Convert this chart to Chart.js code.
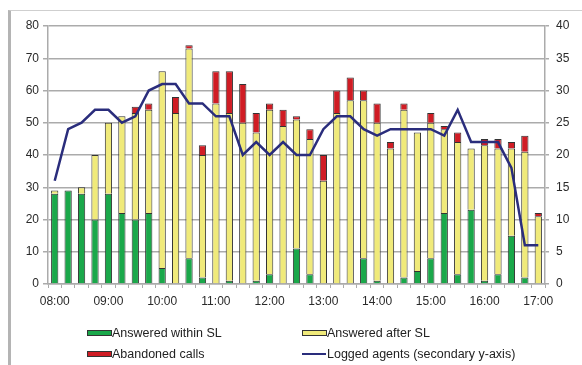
<!DOCTYPE html>
<html>
<head>
<meta charset="utf-8">
<script src="https://cdn.jsdelivr.net/npm/chart.js@4.4.1/dist/chart.umd.min.js"></script>
<style>
  html, body { margin: 0; padding: 0; background: #fff; }
  #wrap { position: relative; width: 582px; height: 365px; overflow: hidden; font-family: "Liberation Sans", Arial, sans-serif; }
  #frame { position: absolute; left: 8px; top: 10px; width: 580px; height: 360px; border-left: 3px solid #b4b4b4; border-top: 1px solid #cfcfcf; box-sizing: border-box; }
  canvas { position: absolute; left: 0; top: 0; }
  .lg { position: absolute; font-size: 12.5px; color: #222; line-height: 14px; white-space: nowrap; }
  .box { position: absolute; width: 23px; height: 4px; border: 1px solid #333; }
  .ln { position: absolute; width: 24px; height: 0; border-top: 2px solid #2a2d7c; }
</style>
</head>
<body>
<div id="wrap">
  <div id="frame"></div>
  <canvas id="c" width="582" height="365"></canvas>
  <div class="box" style="left:87px;top:330px;background:#1aa84a;"></div>
  <div class="lg" style="left:112px;top:326px;">Answered within SL</div>
  <div class="box" style="left:302px;top:330px;background:#f0ea7a;"></div>
  <div class="lg" style="left:327px;top:326px;">Answered after SL</div>
  <div class="box" style="left:87px;top:351px;background:#d01c24;"></div>
  <div class="lg" style="left:112px;top:347px;">Abandoned calls</div>
  <div class="ln" style="left:302px;top:353px;"></div>
  <div class="lg" style="left:327px;top:347px;">Logged agents (secondary y-axis)</div>
</div>
<script>
const times = ['08:00','08:15','08:30','08:45','09:00','09:15','09:30','09:45',
  '10:00','10:15','10:30','10:45','11:00','11:15','11:30','11:45',
  '12:00','12:15','12:30','12:45','13:00','13:15','13:30','13:45',
  '14:00','14:15','14:30','14:45','15:00','15:15','15:30','15:45',
  '16:00','16:15','16:30','16:45','17:00'];
const answeredWithinSL = [28,29,28,20,28,22,20,22,5,0,8,
  2,0,1,0,1,3,0,11,3,0,0,0,8,1,
  0,2,4,8,22,3,23,1,3,15,2,0];
const answeredAfterSL = [1,0,2,20,22,30,33,32,61,53,65,
  38,56,52,50,46,51,49,40,42,32,53,57,49,49,
  42,52,43,42,26,41,19,42,39,27,39,21];
const abandonedCalls = [0,0,0,0,0,0,2,2,0,5,1,
  3,10,13,12,6,2,5,1,3,8,7,7,3,6,
  2,2,0,3,1,3,0,2,3,2,5,1];
const loggedAgents = [16,24,25,27,27,25,26,30,31,31,28,
  28,26,26,20,22,20,22,20,20,24,26,26,24,23,
  24,24,24,24,23,27,22,22,22,18,6,6];
const shownTimes = ['08:00','09:00','10:00','11:00','12:00','13:00','14:00','15:00','16:00','17:00'];

const FONT = { family: '"Liberation Sans", Arial, sans-serif', size: 12 };
const TXT = '#2a2a2a';
const GRID = '#ababab';

const barCommon = { borderColor: '#333333', borderWidth: 1, barPercentage: 0.54, categoryPercentage: 1, yAxisID: 'y', order: 2, stack: 's' };

new Chart(document.getElementById('c'), {
  type: 'bar',
  data: {
    labels: times,
    datasets: [
      Object.assign({ label: 'Answered within SL', data: answeredWithinSL, backgroundColor: '#1aa84a' }, barCommon),
      Object.assign({ label: 'Answered after SL', data: answeredAfterSL, backgroundColor: '#f0ea7a' }, barCommon),
      Object.assign({ label: 'Abandoned calls', data: abandonedCalls, backgroundColor: '#d01c24' }, barCommon),
      { type: 'line', label: 'Logged agents (secondary y-axis)', data: loggedAgents, yAxisID: 'y1',
        borderColor: '#2a2d7c', borderWidth: 2.5, pointRadius: 0, tension: 0, fill: false, order: 0 }
    ]
  },
  options: {
    responsive: false,
    animation: false,
    devicePixelRatio: 1,
    layout: { padding: { top: 26, bottom: 51, left: 0, right: 0 } },
    plugins: { legend: { display: false }, tooltip: { enabled: false } },
    scales: {
      x: {
        stacked: true,
        offset: true,
        grid: { offset: true, drawOnChartArea: false, drawTicks: true, tickLength: 4, color: GRID, lineWidth: 1 },
        border: { display: true, color: GRID, width: 1.5 },
        ticks: {
          autoSkip: false, maxRotation: 0, minRotation: 0, padding: 6, color: TXT, font: FONT,
          callback: function (v, i) { const t = times[i]; return shownTimes.includes(t) ? t : ''; }
        },
        afterFit: function (s) { s.height = 30; }
      },
      y: {
        position: 'left', stacked: true, min: 0, max: 80,
        ticks: { stepSize: 10, color: TXT, font: FONT, padding: 4 },
        grid: { color: GRID, lineWidth: 1.5, tickLength: 5 },
        border: { display: true, color: GRID, width: 1.5 },
        afterFit: function (s) { s.width = 48; }
      },
      y1: {
        position: 'right', min: 0, max: 40,
        ticks: { stepSize: 5, color: TXT, font: FONT, padding: 7 },
        grid: { drawOnChartArea: false, color: GRID, lineWidth: 1.5, tickLength: 4 },
        border: { display: true, color: GRID, width: 1.5 },
        afterFit: function (s) { s.width = 37; }
      }
    }
  }
});
</script>
</body>
</html>
